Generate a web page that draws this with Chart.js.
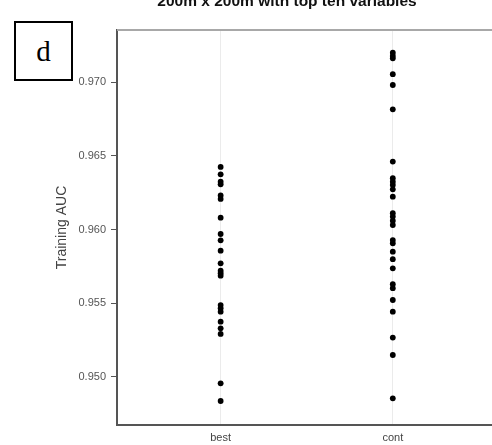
<!DOCTYPE html>
<html>
<head>
<meta charset="utf-8">
<script src="https://cdn.jsdelivr.net/npm/chart.js@4.4.1/dist/chart.umd.min.js"></script>
<style>
  html, body { margin: 0; padding: 0; background: #fff; overflow: hidden; }
  #wrap { position: relative; width: 560px; height: 445px; }
  #title { position: absolute; left: 0; top: -8px; width: 574px; text-align: center;
           font: bold 15.5px "Liberation Sans", Arial, sans-serif; line-height: 18px; color: #111; }
  #panel { position: absolute; left: 14px; top: 21px; width: 55px; height: 56px;
           border: 2px solid #000; text-align: center; color: #000; background: #fff;
           font: 29px "Liberation Serif", "Times New Roman", serif; line-height: 56px; }
</style>
</head>
<body>
<div id="wrap">
  <canvas id="aucChart" width="560" height="445"></canvas>
  <div id="title">200m x 200m with top ten variables</div>
  <div id="panel">d</div>
</div>
<script>
const categories = ['best', 'cont'];

// training AUC per run
const bestAuc = [
  0.96425, 0.96375, 0.96325, 0.96307, 0.96231, 0.96208, 0.96081, 0.95970,
  0.95927, 0.95857, 0.95771, 0.95721, 0.95704, 0.95687, 0.95488, 0.95466,
  0.95443, 0.95375, 0.95330, 0.95292, 0.94957, 0.94837
];
const contAuc = [
  0.97200, 0.97178, 0.97162, 0.97054, 0.96981, 0.96816, 0.96461, 0.96348,
  0.96325, 0.96303, 0.96273, 0.96223, 0.96111, 0.96088, 0.96060, 0.96031,
  0.95929, 0.95907, 0.95850, 0.95799, 0.95737, 0.95629, 0.95602, 0.95522,
  0.95443, 0.95267, 0.95149, 0.94855
];
const yTicks = [0.950, 0.955, 0.960, 0.965, 0.970];

const seriesByCategory = [bestAuc, contAuc];
const font = '"Liberation Sans", Arial, sans-serif';

// light top edge of the panel frame
const frameTop = {
  id: 'frameTop',
  afterDraw(chart) {
    const { ctx, chartArea: a } = chart;
    ctx.save();
    ctx.strokeStyle = '#a8a8a8';
    ctx.lineWidth = 2;
    ctx.beginPath();
    ctx.moveTo(a.left, a.top);
    ctx.lineTo(a.right, a.top);
    ctx.stroke();
    ctx.restore();
  }
};

new Chart(document.getElementById('aucChart'), {
  type: 'scatter',
  data: {
    datasets: seriesByCategory.map((vals, i) => ({
      label: categories[i],
      data: vals.map(v => ({ x: i + 1, y: v })),
      backgroundColor: '#000',
      borderWidth: 0,
      pointRadius: 2.9,
    })),
  },
  options: {
    responsive: false,
    animation: false,
    layout: { padding: { top: 30, right: 20, left: 0, bottom: 0 } },
    plugins: {
      legend: { display: false },
      tooltip: { enabled: false },
    },
    scales: {
      x: {
        type: 'linear',
        min: 0.398,
        max: 2.855,
        afterBuildTicks: s => { s.ticks = categories.map((c, i) => ({ value: i + 1 })); },
        afterFit: s => { s.height = 20; },
        ticks: {
          autoSkip: false,
          padding: 6,
          color: '#444',
          font: { family: font, size: 11 },
          callback: v => categories[Math.round(v) - 1],
        },
        grid: { color: '#ebebeb', drawTicks: false },
        border: { color: '#555', width: 2 },
      },
      y: {
        min: 0.94674,
        max: 0.97354,
        afterBuildTicks: s => { s.ticks = yTicks.map(v => ({ value: v })); },
        afterFit: s => { s.width = 117; },
        ticks: {
          padding: 5,
          color: '#555',
          font: { family: font, size: 11 },
          callback: v => v.toFixed(3),
        },
        grid: { drawOnChartArea: false, drawTicks: true, tickLength: 6, color: '#555' },
        border: { color: '#555', width: 2 },
        title: {
          display: true,
          text: 'Training AUC',
          color: '#444',
          font: { family: font, size: 14 },
          padding: { top: 54, bottom: 0 },
        },
      },
    },
  },
  plugins: [frameTop],
});
</script>
</body>
</html>
